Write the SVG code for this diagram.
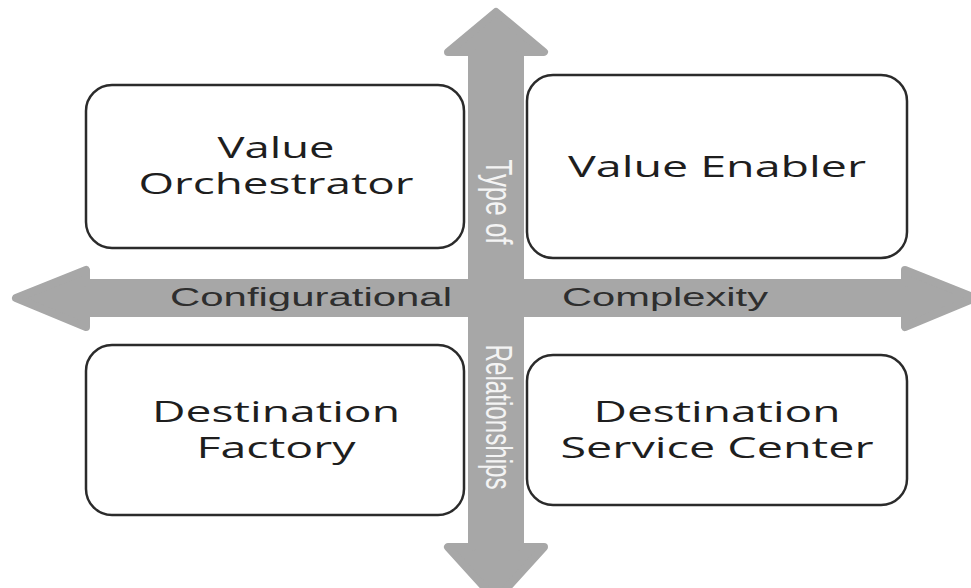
<svg xmlns="http://www.w3.org/2000/svg" width="971" height="588" viewBox="0 0 971 588">
<style>
.box{fill:#fff;stroke:#2b2b2b;stroke-width:2.5}
.bt{font-family:"Open Sans","DejaVu Sans",sans-serif;font-size:29px;fill:#1e1e1e;text-anchor:middle}
.arr{fill:#a7a7a7;stroke:#a7a7a7;stroke-width:8;stroke-linejoin:round}
.ht{font-family:"Liberation Sans",Arial,sans-serif;font-size:25px;fill:#2e2e2e}
.vt{font-family:"Liberation Sans",Arial,sans-serif;font-size:25px;fill:#f4f4f4;text-anchor:middle}
</style>
<g id="connectors">
<polygon class="arr" points="496,12 544,52 520,52 520,547 544,547 496,600 448,547 472,547 472,52 448,52"/>
<polygon class="arr" points="16,298 86,270 86,283 905,283 905,270 975,298 905,327 905,313 86,313 86,327"/>
<text class="ht" x="170" y="306" textLength="282" lengthAdjust="spacingAndGlyphs">Configurational</text>
<text class="ht" x="562" y="306" textLength="206" lengthAdjust="spacingAndGlyphs">Complexity</text>
<text class="vt" transform="translate(486,202) scale(1.5,1) rotate(90)" textLength="85" lengthAdjust="spacingAndGlyphs">Type of</text>
<text class="vt" transform="translate(486,417) scale(1.5,1) rotate(90)" textLength="145" lengthAdjust="spacingAndGlyphs">Relationships</text>
</g>
<g id="value-orchestrator">
<rect class="box" x="86" y="85" width="378" height="163" rx="26"/>
<text class="bt" x="276" y="158" textLength="117" lengthAdjust="spacingAndGlyphs">Value</text>
<text class="bt" x="276" y="194" textLength="275" lengthAdjust="spacingAndGlyphs">Orchestrator</text>
</g>
<g id="value-enabler">
<rect class="box" x="527" y="75" width="380" height="183" rx="26"/>
<text class="bt" x="717" y="177" textLength="298" lengthAdjust="spacingAndGlyphs">Value Enabler</text>
</g>
<g id="destination-factory">
<rect class="box" x="86" y="345" width="378" height="170" rx="26"/>
<text class="bt" x="276" y="422" textLength="248" lengthAdjust="spacingAndGlyphs">Destination</text>
<text class="bt" x="276" y="458" textLength="159" lengthAdjust="spacingAndGlyphs">Factory</text>
</g>
<g id="destination-service-center">
<rect class="box" x="527" y="355" width="380" height="150" rx="26"/>
<text class="bt" x="717" y="422" textLength="247" lengthAdjust="spacingAndGlyphs">Destination</text>
<text class="bt" x="717" y="458" textLength="313" lengthAdjust="spacingAndGlyphs">Service Center</text>
</g>
</svg>
